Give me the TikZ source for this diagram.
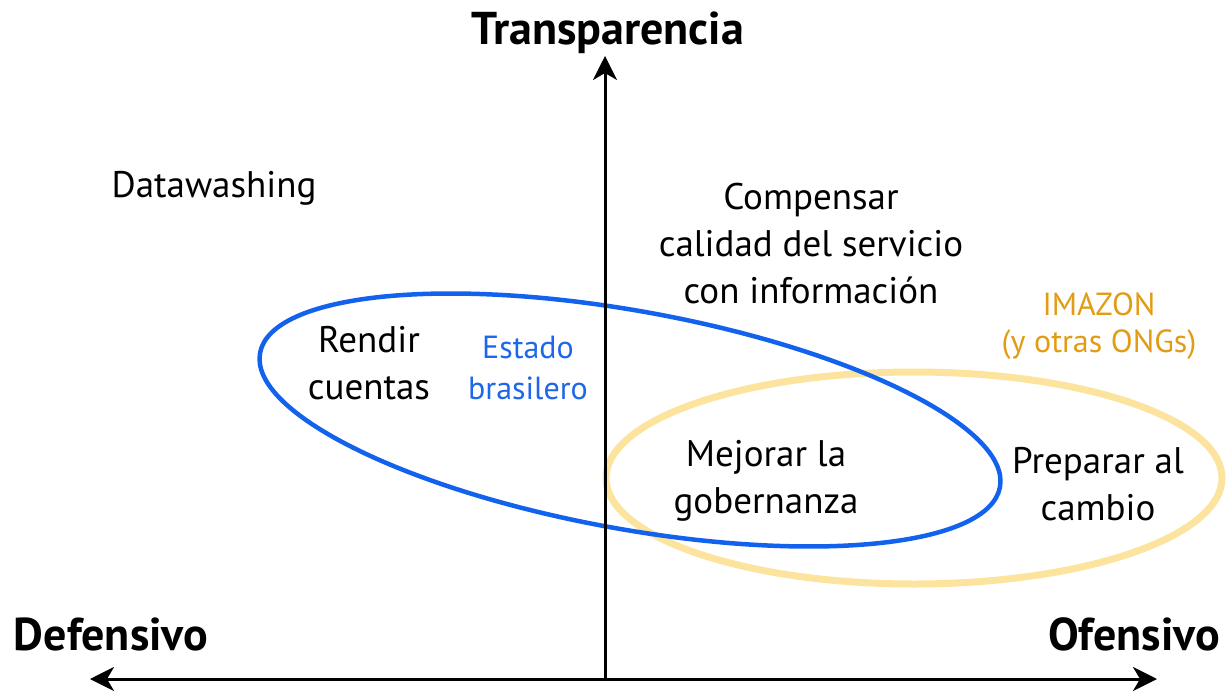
\documentclass[tikz,border=0pt]{standalone}
\usepackage{fontspec}
\setmainfont{PT Sans}
\usetikzlibrary{arrows.meta}
\definecolor{axblue}{HTML}{1262EE}
\definecolor{txtblue}{HTML}{1E66EA}
\definecolor{imaorange}{HTML}{E29C14}
\definecolor{imayellow}{HTML}{FCE39E}
\tikzset{
  lbl/.style={anchor=base, align=center, inner sep=0pt, font=\fontsize{37}{47}\selectfont},
  axlbl/.style={anchor=base, inner sep=0pt, font=\fontsize{46}{50}\selectfont\bfseries},
  bluelbl/.style={anchor=base, align=center, inner sep=0pt, text=txtblue, font=\fontsize{32}{41}\selectfont},
  orangelbl/.style={anchor=base, align=center, inner sep=0pt, text=imaorange, font=\fontsize{32}{37}\selectfont},
  axis/.style={line width=3pt, -{Stealth[length=24pt, width=24pt, inset=7pt]}},
}
\begin{document}
\begin{tikzpicture}[x=1pt, y=-1pt]
\useasboundingbox (0,0) rectangle (1228,693);
% ellipses
\draw[imayellow, line width=7pt] (914,478) ellipse [x radius=308, y radius=106];
\draw[axblue, line width=4.5pt] (630,420) ellipse [x radius=376, y radius=109, rotate=-10.27];
% axes
\coordinate (o) at (605,679);
\coordinate (top) at (605,56);
\coordinate (left) at (90,679);
\coordinate (right) at (1157,679);
\draw[axis] (o) -- (top);
\draw[axis] (o) -- (left);
\draw[axis] (o) -- (right);
% axis labels
\node[axlbl] (tr) at (608,45) {Transparencia};
\node[axlbl] (def) at (111,650) {Defensivo};
\node[axlbl] (ofe) at (1134,650) {Ofensivo};
% quadrant labels
\node[lbl] (dw) at (214,197) {Datawashing};
\node[lbl] (comp) at (811,303) {Compensar\\calidad del servicio\\con información};
\node[lbl] (rend) at (369,399) {Rendir\\cuentas};
\node[bluelbl] (est) at (528,399) {Estado\\brasilero};
\node[lbl] (mej) at (766,513) {Mejorar la\\gobernanza};
\node[lbl] (prep) at (1098,520) {Preparar al\\cambio};
\node[orangelbl] (ima) at (1099,352) {IMAZON\\(y otras ONGs)};
\end{tikzpicture}
\end{document}
